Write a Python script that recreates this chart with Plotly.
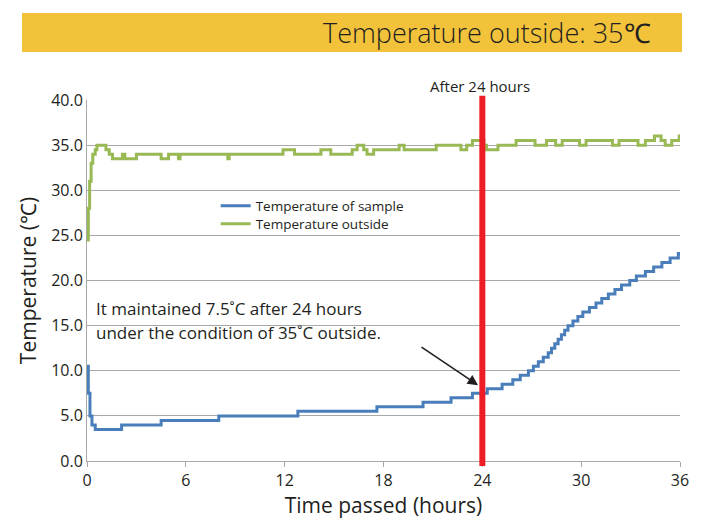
import plotly.graph_objects as go

# ---- data (hours, °C) : staircase change points ----
sample_hours = [0, 0.08, 0.18, 0.3, 0.5, 2.1, 4.5, 8.0, 12.8, 17.6, 20.4, 22.1, 23.4,
                24.3, 25.2, 25.85, 26.3, 26.8, 27.1, 27.4, 27.7, 28.0, 28.2, 28.4, 28.6,
                28.8, 29.0, 29.2, 29.5, 29.8, 30.1, 30.5, 30.9, 31.25, 31.65, 32.05,
                32.45, 32.95, 33.35, 33.9, 34.4, 34.9, 35.4, 35.9, 36.0]
sample_temp = [10.5, 7.5, 5.0, 4.0, 3.5, 4.0, 4.5, 5.0, 5.5, 6.0, 6.5, 7.0, 7.5,
               8.0, 8.5, 9.0, 9.5, 10.0, 10.5, 11.0, 11.5, 12.0, 12.5, 13.0, 13.5,
               14.0, 14.5, 15.0, 15.5, 16.0, 16.5, 17.0, 17.5, 18.0, 18.5, 19.0,
               19.5, 20.0, 20.5, 21.0, 21.5, 22.0, 22.5, 23.0, 23.0]

outside_hours = [0, 0.08, 0.16, 0.25, 0.35, 0.5, 0.6, 1.15, 1.35, 1.55, 2.15, 2.3, 3.0, 4.5,
                 4.95, 5.55, 5.65, 8.55, 8.63, 11.9, 12.6, 14.2, 14.8, 16.1, 16.4,
                 16.8, 17.0, 17.4, 18.95, 19.25, 21.2, 22.7, 23.05, 23.4, 24.1, 24.25,
                 24.95, 26.05, 27.2, 27.9, 28.45, 28.85, 29.9, 30.3, 31.9, 32.3, 33.45,
                 33.9, 34.45, 34.85, 35.1, 35.5, 35.95, 36.0]
outside_temp = [24.5, 28.0, 31.0, 33.0, 34.0, 34.5, 35.0, 34.5, 34.0, 33.5, 34.0, 33.5, 34.0, 33.5,
                34.0, 33.5, 34.0, 33.5, 34.0, 34.5, 34.0, 34.5, 34.0, 34.5, 35.0,
                34.5, 34.0, 34.5, 35.0, 34.5, 35.0, 34.5, 35.0, 35.5, 35.0, 34.5,
                35.0, 35.5, 35.0, 35.5, 35.0, 35.5, 35.0, 35.5, 35.0, 35.5, 35.0,
                35.5, 36.0, 35.5, 35.0, 35.5, 36.0, 36.0]

x_ticks = [0, 6, 12, 18, 24, 30, 36]
y_ticks = [0, 5, 10, 15, 20, 25, 30, 35, 40]
marker_hour = 24

FONT = "Open Sans"
TXT = "#231f20"
GRID = "#a8a8a8"

fig = go.Figure()
fig.add_trace(go.Scatter(x=sample_hours, y=sample_temp, mode="lines", line_shape="hv",
                         name="Temperature of sample", legend="legend",
                         line=dict(color="#4a7ebb", width=3)))
fig.add_trace(go.Scatter(x=outside_hours, y=outside_temp, mode="lines", line_shape="hv",
                         name="Temperature outside", legend="legend2",
                         line=dict(color="#98b954", width=3)))

# red vertical marker at 24 h
fig.add_shape(type="line", xref="x", yref="paper", x0=marker_hour, x1=marker_hour,
              y0=-0.014, y1=1.012, line=dict(color="#ee1c25", width=6))

# title bar
fig.add_shape(type="rect", xref="paper", yref="paper", x0=-0.1096, x1=1.0034,
              y0=1.133, y1=1.241, fillcolor="#f2c33a", line=dict(width=0), layer="below")
fig.add_annotation(xref="paper", yref="paper", x=0.9545, y=1.1856, xanchor="right",
                   yanchor="middle", showarrow=False, text="Temperature outside: 35℃",
                   font=dict(family=FONT, size=27, color=TXT, weight=300))

fig.add_annotation(xref="x", yref="paper", x=marker_hour - 0.15, y=1.039, xanchor="center",
                   yanchor="middle", showarrow=False, text="After 24 hours",
                   font=dict(family=FONT, size=15, color=TXT))

fig.add_annotation(xref="x", yref="y", x=0.4, y=16.95, xanchor="left", yanchor="middle",
                   align="left", showarrow=False,
                   text="It maintained 7.5˚C after 24 hours",
                   font=dict(family=FONT, size=17, color=TXT))
fig.add_annotation(xref="x", yref="y", x=0.4, y=14.2, xanchor="left", yanchor="middle",
                   align="left", showarrow=False,
                   text="under the condition of 35˚C outside.",
                   font=dict(family=FONT, size=17, color=TXT))

fig.add_annotation(xref="x", yref="y", x=23.74, y=8.4, ax=-58, ay=-39,
                   showarrow=True, arrowhead=2, arrowsize=1.3, arrowwidth=1.6,
                   arrowcolor="#231f20", text="")

leg_common = dict(xanchor="left", yanchor="middle", bgcolor="rgba(0,0,0,0)",
                  font=dict(family=FONT, size=13.5, color=TXT), itemwidth=30,
                  borderwidth=0)

fig.update_layout(
    width=693, height=512,
    margin=dict(l=79, r=21, t=92, b=59, autoexpand=False),
    paper_bgcolor="white", plot_bgcolor="white",
    font=dict(family=FONT, color=TXT),
    showlegend=True,
    legend=dict(x=0.217, y=0.7064, **leg_common),
    legend2=dict(x=0.217, y=0.6565, **leg_common),
)
fig.update_xaxes(range=[0, 36], tickmode="array", tickvals=x_ticks, automargin=False,
                 ticks="outside", ticklen=5, tickcolor=GRID, showgrid=False,
                 showline=True, linecolor=GRID, linewidth=1, zeroline=False,
                 tickfont=dict(family=FONT, size=16, color=TXT),
                 title=dict(text="Time passed (hours)", standoff=6,
                            font=dict(family=FONT, size=21, color=TXT)))
fig.update_yaxes(range=[0, 40], tickmode="array", tickvals=y_ticks, tickformat=".1f",
                 automargin=False,
                 ticks="", showgrid=True, gridcolor=GRID, gridwidth=1,
                 showline=True, linecolor=GRID, linewidth=1, zeroline=False,
                 tickfont=dict(family=FONT, size=16, color=TXT),
                 title=dict(text="Temperature (℃)", standoff=8,
                            font=dict(family=FONT, size=21, color=TXT)))

fig.write_html("out.html")
